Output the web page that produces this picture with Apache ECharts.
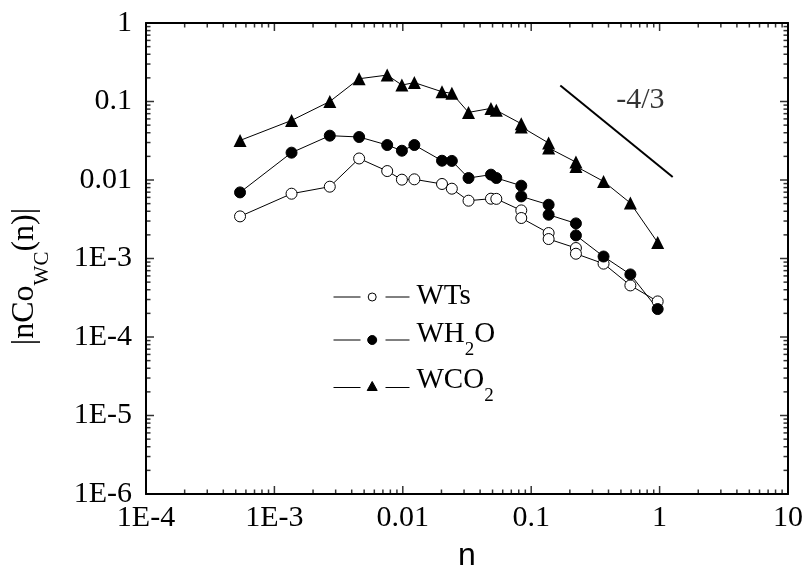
<!DOCTYPE html>
<html>
<head>
<meta charset="utf-8">
<script src="https://cdn.jsdelivr.net/npm/echarts@6/dist/echarts.min.js"></script>
<style>html,body{margin:0;padding:0;background:#fff}#c{width:805px;height:566px}</style>
</head>
<body>
<div id="c"></div>
<script>
// ---- data ----
const nValues = [5.4e-4, 1.36e-3, 2.7e-3, 4.57e-3, 7.56e-3, 9.84e-3, 0.0123, 0.0202, 0.0241, 0.0325, 0.0486, 0.0535, 0.0837, 0.0837, 0.1367, 0.1367, 0.223, 0.223, 0.366, 0.592, 0.966];
const wts  = [0.00344, 0.00669, 0.00822, 0.0188, 0.0130, 0.0101, 0.0102, 0.0089, 0.00775, 0.00545, 0.00578, 0.00575, 0.0041, 0.00328, 0.00211, 0.00177, 0.00136, 0.00115, 8.6e-4, 4.54e-4, 2.84e-4];
const wh2o = [0.00695, 0.0223, 0.0367, 0.0353, 0.0279, 0.0236, 0.0279, 0.0176, 0.0175, 0.0106, 0.0117, 0.0106, 0.00846, 0.00618, 0.00484, 0.00361, 0.0028, 0.00197, 0.00106, 6.27e-4, 2.27e-4];
const wco2 = [0.0319, 0.0574, 0.100, 0.195, 0.217, 0.162, 0.174, 0.133, 0.127, 0.0726, 0.0817, 0.0771, 0.0521, 0.0475, 0.0296, 0.0256, 0.0169, 0.0149, 0.0096, 0.00509, 0.0016];
const slopeLine = [[0.1686, 0.160], [1.265, 0.0109]];
const slopeLabel = [[0.708, 0.105, '-4/3']];
const seriesNames = ['WTs', 'WH2O', 'WCO2'];
const xTickLabels = ['1E-4', '1E-3', '0.01', '0.1', '1', '10'];
const yTickLabels = ['1E-6', '1E-5', '1E-4', '1E-3', '0.01', '0.1', '1'];
const xMinExp = -4, xMaxExp = 1, yMinExp = -6, yMaxExp = 0;

// ---- tick values for the log axes ----
function decades(e0, e1) { const r = []; for (let k = e0; k <= e1; k++) r.push(Math.pow(10, k)); return r; }
function subDecades(e0, e1) { const r = []; for (let k = e0; k < e1; k++) for (let m = 2; m <= 9; m++) r.push(+(m * Math.pow(10, k)).toPrecision(6)); return r; }
const xMajor = decades(xMinExp, xMaxExp), xMinor = subDecades(xMinExp, xMaxExp);
const yMajor = decades(yMinExp, yMaxExp), yMinor = subDecades(yMinExp, yMaxExp);

const serif = 'Liberation Serif';
const sans = 'Liberation Sans';
const pair = (ys) => nValues.map((x, i) => [x, ys[i]]);
const yLo = Math.pow(10, yMinExp), yHi = Math.pow(10, yMaxExp);
const xLo = Math.pow(10, xMinExp), xHi = Math.pow(10, xMaxExp);

function expLabel(arr, minExp) {
  return function (v) {
    const e = Math.round(Math.log10(v));
    return arr[e - minExp] || '';
  };
}

const legendRich = {
  a: { fontFamily: serif, fontSize: 29, color: '#000', lineHeight: 30, verticalAlign: 'top' },
  s: { fontFamily: serif, fontSize: 19, color: '#000', lineHeight: 40, verticalAlign: 'bottom' }
};
function legendFmt(name) {
  if (name === 'WH2O') return '{a|WH}{s|2}{a|O}';
  if (name === 'WCO2') return '{a|WCO}{s|2}';
  return '{a|' + name + '}';
}
const iconOpen = 'path://M0 4L27 4M52 4L76 4M42.7 4A4 4 0 1 1 34.7 4A4 4 0 1 1 42.7 4Z';
const iconFilled = 'path://M0 4.5L27 4.5M52 4.5L76 4.5M43.2 4.5A4.5 4.5 0 1 1 34.2 4.5A4.5 4.5 0 1 1 43.2 4.5Z';
const iconTri = 'path://M0 6L27 6M52 6L76 6M33.7 9L38.7 0L43.7 9Z';
function mkLegend(name, top, icon, h) {
  return {
    data: [{ name: name, icon: icon }], left: 333, top: top, orient: 'vertical',
    itemWidth: 76, itemHeight: h, padding: 0,
    formatter: legendFmt,
    itemStyle: { borderColor: '#000', borderWidth: 1 },
    textStyle: { fontFamily: serif, fontSize: 29, color: '#000', padding: [0, 0, 0, 2], rich: legendRich },
    selectedMode: false
  };
}

function mkAxis(pos, minE, maxE, extra) {
  return Object.assign({
    type: 'log', logBase: 10, position: pos,
    min: Math.pow(10, minE), max: Math.pow(10, maxE),
    axisLine: { show: true, onZero: false, lineStyle: { color: '#000', width: 2 } },
    axisTick: { show: false },
    axisLabel: { show: false },
    splitLine: { show: false },
    minorTick: { show: false }
  }, extra || {});
}

// tick marks as rectangle symbols sitting on the frame, placed by the axes' own scales
function tickSeries(name, data, size, offset) {
  return {
    name: name, type: 'scatter', data: data, symbol: 'rect',
    symbolSize: size, symbolOffset: offset, clip: false, silent: true,
    itemStyle: { color: '#000', borderWidth: 0 }, z: 10, animation: false
  };
}
const TW = 1.5, LMAJ = 8, LMIN = 4.5;

const ytitleRich = {
  a: { fontFamily: serif, fontSize: 32, color: '#000', fontWeight: 'normal', lineHeight: 34, verticalAlign: 'top' },
  s: { fontFamily: serif, fontSize: 21, color: '#000', fontWeight: 'normal', lineHeight: 44, verticalAlign: 'bottom' }
};

const option = {
  backgroundColor: '#fff',
  animation: false,
  grid: { left: 146, right: 17, top: 23, bottom: 72, containLabel: false, outerBoundsMode: 'none' },
  legend: [mkLegend('WTs', 282, iconOpen, 8), mkLegend('WH2O', 320, iconFilled, 9), mkLegend('WCO2', 366, iconTri, 9)],
  xAxis: [
    mkAxis('bottom', xMinExp, xMaxExp, {
      name: 'n', nameLocation: 'middle', nameGap: 46,
      nameTextStyle: { fontFamily: sans, fontSize: 32, color: '#000' },
      axisLabel: { show: true, margin: 9, fontFamily: serif, fontSize: 30, color: '#000', customValues: xMajor, formatter: expLabel(xTickLabels, xMinExp) }
    }),
    mkAxis('top', xMinExp, xMaxExp)
  ],
  yAxis: [
    mkAxis('left', yMinExp, yMaxExp, {
      name: '{a||nCo}{s|WC}{a|(n)|}', nameLocation: 'middle', nameRotate: 90, nameGap: 93,
      nameTextStyle: { fontFamily: serif, fontSize: 32, color: '#000', padding: [0, 36, 0, 0], rich: ytitleRich },
      axisLabel: { show: true, margin: 14, fontFamily: serif, fontSize: 30, color: '#000', customValues: yMajor, formatter: expLabel(yTickLabels, yMinExp) }
    }),
    mkAxis('right', yMinExp, yMaxExp)
  ],
  series: [
    {
      name: 'WTs', type: 'line', data: pair(wts), symbol: 'circle', symbolSize: 11,
      lineStyle: { color: '#000', width: 1 },
      itemStyle: { color: '#fff', borderColor: '#000', borderWidth: 1 }, z: 3
    },
    {
      name: 'WH2O', type: 'line', data: pair(wh2o), symbol: 'circle', symbolSize: 11,
      lineStyle: { color: '#000', width: 1 },
      itemStyle: { color: '#000', borderColor: '#000', borderWidth: 1 }, z: 3
    },
    {
      name: 'WCO2', type: 'line', data: pair(wco2), symbol: 'triangle', symbolSize: 13,
      lineStyle: { color: '#000', width: 1 },
      itemStyle: { color: '#000', borderColor: '#000', borderWidth: 0 }, z: 3
    },
    {
      name: 'slope', type: 'line', data: slopeLine, symbol: 'none',
      lineStyle: { color: '#000', width: 2 }, z: 2
    },
    {
      name: 'slopeText', type: 'scatter', data: slopeLabel, symbolSize: 1,
      itemStyle: { color: 'rgba(0,0,0,0)' },
      label: { show: true, position: 'inside', formatter: (p) => p.data[2], fontFamily: serif, fontSize: 30, color: '#000' }
    },
    tickSeries('tBotMaj', xMajor.map(v => [v, yLo]), [TW, LMAJ], [0, -LMAJ / 2]),
    tickSeries('tBotMin', xMinor.map(v => [v, yLo]), [TW, LMIN], [0, -LMIN / 2]),
    tickSeries('tTopMaj', xMajor.map(v => [v, yHi]), [TW, LMAJ], [0, LMAJ / 2]),
    tickSeries('tTopMin', xMinor.map(v => [v, yHi]), [TW, LMIN], [0, LMIN / 2]),
    tickSeries('tLeftMaj', yMajor.map(v => [xLo, v]), [LMAJ, TW], [LMAJ / 2, 0]),
    tickSeries('tLeftMin', yMinor.map(v => [xLo, v]), [LMIN, TW], [LMIN / 2, 0]),
    tickSeries('tRightMaj', yMajor.map(v => [xHi, v]), [LMAJ, TW], [-LMAJ / 2, 0]),
    tickSeries('tRightMin', yMinor.map(v => [xHi, v]), [LMIN, TW], [-LMIN / 2, 0])
  ]
};

const chart = echarts.init(document.getElementById('c'), null, { renderer: 'canvas' });
chart.setOption(option);
</script>
</body>
</html>
